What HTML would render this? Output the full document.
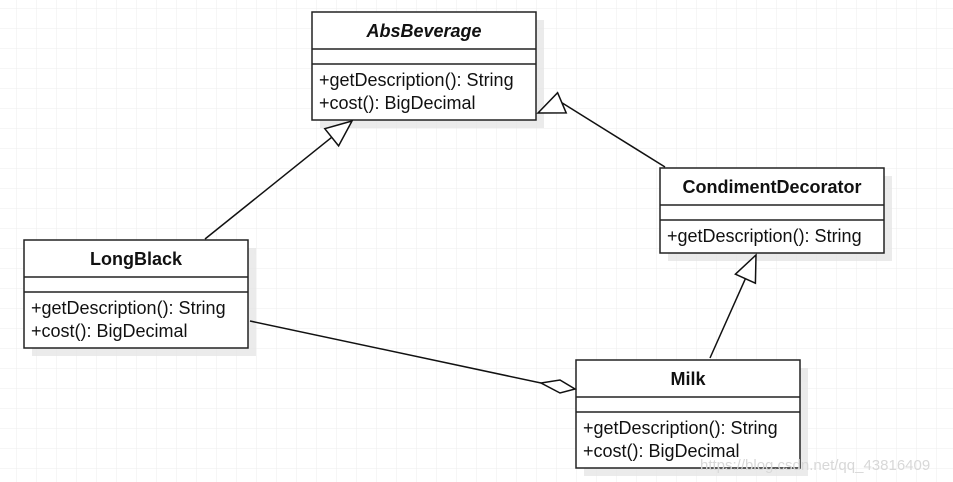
<!DOCTYPE html>
<html><head><meta charset="utf-8"><style>
html,body{margin:0;padding:0;width:953px;height:482px;overflow:hidden;background:#fff;}
svg{display:block}
text{font-family:"Liberation Sans",Arial,sans-serif;font-size:18px;fill:#111}
.t{font-weight:bold;text-anchor:middle}
</style></head><body>
<svg width="953" height="482" viewBox="0 0 953 482" xmlns="http://www.w3.org/2000/svg">
<defs>
<pattern id="g" x="16" y="8" width="20" height="20" patternUnits="userSpaceOnUse">
<path d="M0 0H20M0 0V20" stroke="#ececec" stroke-width="1" fill="none"/>
</pattern>
</defs>
<rect width="953" height="482" fill="url(#g)"/>
<!-- shadows -->
<g fill="#e6e6e6" opacity="0.8">
<rect x="320" y="20" width="224" height="108"/>
<rect x="32" y="248" width="224" height="108"/>
<rect x="668" y="176" width="224" height="85"/>
<rect x="584" y="368" width="224" height="108"/>
</g>
<g stroke="#222" stroke-width="1.5" fill="#fff">
<rect x="312" y="12" width="224" height="108"/>
<line x1="312" y1="49" x2="536" y2="49"/><line x1="312" y1="64" x2="536" y2="64"/>
<rect x="24" y="240" width="224" height="108"/>
<line x1="24" y1="277" x2="248" y2="277"/><line x1="24" y1="292" x2="248" y2="292"/>
<rect x="660" y="168" width="224" height="85"/>
<line x1="660" y1="205" x2="884" y2="205"/><line x1="660" y1="220" x2="884" y2="220"/>
<rect x="576" y="360" width="224" height="108"/>
<line x1="576" y1="397" x2="800" y2="397"/><line x1="576" y1="412" x2="800" y2="412"/>
</g>
<g stroke="#111" stroke-width="1.5" fill="#fff">
<line x1="205" y1="239" x2="331.7" y2="137.3"/>
<polygon points="352,121 338.6,145.9 324.8,128.7"/>
<line x1="665" y1="167" x2="561.9" y2="102.8"/>
<polygon points="538,113 566.2,112.9 557.6,92.7"/>
<line x1="710" y1="358" x2="745.4" y2="278.7"/>
<polygon points="756,255 755.4,283.2 735.4,274.2"/>
<line x1="250" y1="321" x2="541" y2="383"/>
<polygon points="575,389 560,393 541,383 560,380"/>
</g>
<text class="t" x="424" y="37" font-style="italic">AbsBeverage</text>
<text x="319" y="86">+getDescription(): String</text>
<text x="319" y="109">+cost(): BigDecimal</text>
<text class="t" x="136" y="265">LongBlack</text>
<text x="31" y="314">+getDescription(): String</text>
<text x="31" y="337">+cost(): BigDecimal</text>
<text class="t" x="772" y="193">CondimentDecorator</text>
<text x="667" y="242">+getDescription(): String</text>
<text class="t" x="688" y="385">Milk</text>
<text x="583" y="434">+getDescription(): String</text>
<text x="583" y="457">+cost(): BigDecimal</text>
<text x="700" y="470" style="font-size:15px;fill:#d8d8d8">https://blog.csdn.net/qq_43816409</text>
</svg>
</body></html>
